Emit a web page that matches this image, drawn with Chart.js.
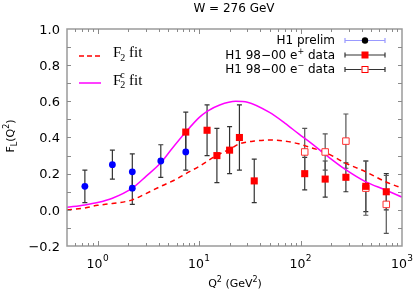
<!DOCTYPE html>
<html><head><meta charset="utf-8">
<script src="https://cdn.jsdelivr.net/npm/chart.js@4"></script>
<style>html,body{margin:0;padding:0;background:#fff;overflow:hidden}</style>
</head><body>
<canvas id="c" width="415" height="291"></canvas>
<script>
// ---- data ----
const prelimQ2  = [0.75, 1.4, 2.2, 2.2, 4.2, 7.4];
const prelimFL  = [0.13, 0.25, 0.21, 0.12, 0.27, 0.32];
const prelimErr = [0.09, 0.08, 0.10, 0.09, 0.09, 0.10];

const ePlusQ2  = [7.4, 12, 15, 20, 25, 35, 110, 175, 280, 440, 700];
const ePlusFL  = [0.43, 0.44, 0.30, 0.33, 0.40, 0.16, 0.20, 0.17, 0.18, 0.13, 0.10];
const ePlusErr = [0.11, 0.14, 0.15, 0.13, 0.18, 0.12, 0.09, 0.10, 0.08, 0.14, 0.10];

const eMinusQ2  = [110, 175, 280, 440, 700];
const eMinusFL  = [0.32, 0.32, 0.38, 0.12, 0.03];
const eMinusErr = [0.13, 0.10, 0.15, 0.15, 0.16];

const f2Q2 = [0.5, 0.75, 1.0, 1.4, 2.2, 3.0, 4.2, 6.0, 7.4, 10, 14.8, 20, 25, 35, 49, 70, 96, 130, 172, 274, 440, 690, 1000];
const f2FL = [0.0, 0.01, 0.025, 0.035, 0.055, 0.09, 0.13, 0.17, 0.20, 0.24, 0.30, 0.335, 0.365, 0.38, 0.386, 0.38, 0.365, 0.342, 0.32, 0.26, 0.21, 0.155, 0.12];

const f2cQ2 = [0.5, 0.75, 1.0, 1.4, 2.2, 3.0, 4.2, 5.1, 7.4, 10, 12, 16, 23, 30, 49, 70, 96, 130, 172, 274, 440, 690, 1000];
const f2cFL = [0.014, 0.027, 0.04, 0.064, 0.12, 0.185, 0.26, 0.32, 0.43, 0.51, 0.545, 0.58, 0.60, 0.595, 0.54, 0.48, 0.42, 0.365, 0.31, 0.225, 0.155, 0.11, 0.07];

const xTickValues = [1, 10, 100, 1000];
const xTickExps   = ['0', '1', '2', '3'];
const yTickValues = [-0.2, 0.0, 0.2, 0.4, 0.6, 0.8, 1.0];
const yTickLabels = ['\u22120.2', '0.0', '0.2', '0.4', '0.6', '0.8', '1.0'];

const titleText = 'W = 276 GeV';

// ---- helpers ----
const pts = (xs, ys) => xs.map((x, i) => ({x: x, y: ys[i]}));
const SANS = '"DejaVu Sans"';
const SERIF = '"Liberation Serif"';

function errBars(ctx, xs, ys, xv, yv, ev, color) {
  ctx.save();
  ctx.strokeStyle = color; ctx.lineWidth = 1.2;
  for (let i = 0; i < xv.length; i++) {
    const px = xs.getPixelForValue(xv[i]);
    const y1 = ys.getPixelForValue(yv[i] - ev[i]);
    const y2 = ys.getPixelForValue(yv[i] + ev[i]);
    ctx.beginPath();
    ctx.moveTo(px, y1); ctx.lineTo(px, y2);
    ctx.moveTo(px - 2.5, y1); ctx.lineTo(px + 2.5, y1);
    ctx.moveTo(px - 2.5, y2); ctx.lineTo(px + 2.5, y2);
    ctx.stroke();
  }
  ctx.restore();
}

// draws a sequence of [text, size, dy, extraSpace] pieces starting at x, baseline y
function runs(ctx, x, y, parts, family) {
  let cx = x;
  for (const p of parts) {
    ctx.font = p[1] + 'px ' + family;
    ctx.fillText(p[0], cx, y + (p[2] || 0));
    cx += ctx.measureText(p[0]).width + (p[3] || 0);
  }
  return cx;
}
function runsWidth(ctx, parts, family) {
  let w = 0;
  for (const p of parts) { ctx.font = p[1] + 'px ' + family; w += ctx.measureText(p[0]).width + (p[3] || 0); }
  return w;
}

const decor = {
  id: 'decor',
  beforeDatasetsDraw(chart) {
    const {ctx, scales: {x, y}} = chart;
    ctx.save();
    ctx.beginPath();
    ctx.rect(chart.chartArea.left, chart.chartArea.top, chart.chartArea.width, chart.chartArea.height);
    ctx.clip();
    errBars(ctx, x, y, prelimQ2, prelimFL, prelimErr, '#333');
    errBars(ctx, x, y, ePlusQ2, ePlusFL, ePlusErr, '#333');
    errBars(ctx, x, y, eMinusQ2, eMinusFL, eMinusErr, '#555');
    ctx.restore();
  },
  afterDraw(chart) {
    const {ctx, chartArea: a, scales: {x, y}} = chart;
    ctx.save();
    // frame
    ctx.strokeStyle = '#9a9a9a'; ctx.lineWidth = 1.5;
    ctx.strokeRect(a.left, a.top, a.right - a.left, a.bottom - a.top);
    // ticks
    ctx.lineWidth = 1; ctx.strokeStyle = '#8a8a8a';
    ctx.beginPath();
    for (let d = -1; d <= 2; d++) {
      for (let m = 1; m <= 9; m++) {
        const v = m * Math.pow(10, d);
        if (v <= 0.5 || v >= 1000) continue;
        const px = Math.round(x.getPixelForValue(v)) + 0.5;
        const len = (m === 1) ? 5 : 3;
        ctx.moveTo(px, a.bottom); ctx.lineTo(px, a.bottom - len);
        ctx.moveTo(px, a.top); ctx.lineTo(px, a.top + len);
      }
    }
    for (let k = -1; k <= 9; k++) {
      const py = Math.round(y.getPixelForValue(k / 10)) + 0.5;
      ctx.moveTo(a.left, py); ctx.lineTo(a.left + 4, py);
      ctx.moveTo(a.right, py); ctx.lineTo(a.right - 4, py);
    }
    ctx.stroke();

    ctx.fillStyle = '#000';
    ctx.textBaseline = 'alphabetic';
    // y tick labels
    ctx.font = '13px ' + SANS; ctx.textAlign = 'right';
    yTickValues.forEach((v, i) => {
      ctx.fillText(yTickLabels[i], 60, y.getPixelForValue(v) + 4.7);
    });
    // x tick labels
    ctx.textAlign = 'left';
    xTickValues.forEach((v, i) => {
      const parts = [['10', 12.5, 0, 0.5], [xTickExps[i], 9, -7]];
      const w = runsWidth(ctx, parts, SANS);
      runs(ctx, x.getPixelForValue(v) - w / 2, 267.5, parts, SANS);
    });
    // title
    ctx.font = '12px ' + SANS; ctx.textAlign = 'center';
    ctx.fillText(titleText, 234, 12);
    // x axis title
    ctx.textAlign = 'left';
    {
      const parts = [['Q', 11], ['2', 8, -5], [' (GeV', 11], ['2', 8, -5], [')', 11]];
      const w = runsWidth(ctx, parts, SANS);
      runs(ctx, 235 - w / 2, 287, parts, SANS);
    }
    // y axis title (rotated)
    ctx.save();
    ctx.translate(13.5, 136);
    ctx.rotate(-Math.PI / 2);
    {
      const parts = [['F', 11], ['L', 8, 3], ['(Q', 11], ['2', 8, -5], [')', 11]];
      const w = runsWidth(ctx, parts, SANS);
      runs(ctx, -w / 2, 0, parts, SANS);
    }
    ctx.restore();

    // right legend
    const rows = [
      {parts: [['H1 prelim', 12]], line: '#9999ff', mark: 'dot'},
      {parts: [['H1 98\u221200 e', 12], ['+', 8, -5], [' data', 12]], line: '#333', mark: 'sq'},
      {parts: [['H1 98\u221200 e', 12], ['\u2212', 8, -5], [' data', 12]], line: '#333', mark: 'osq'}
    ];
    const rowY = [40, 54.5, 69];
    rows.forEach((r, i) => {
      const cy = rowY[i];
      ctx.fillStyle = '#000';
      const w = runsWidth(ctx, r.parts, SANS);
      runs(ctx, 335 - w, cy + 4.3, r.parts, SANS);
      ctx.strokeStyle = r.line; ctx.lineWidth = 1.2;
      ctx.beginPath();
      ctx.moveTo(345, cy + 0.5); ctx.lineTo(385, cy + 0.5);
      ctx.moveTo(345, cy - 2); ctx.lineTo(345, cy + 3);
      ctx.moveTo(385, cy - 2); ctx.lineTo(385, cy + 3);
      ctx.stroke();
      if (r.mark === 'dot') {
        ctx.fillStyle = '#000'; ctx.beginPath(); ctx.arc(365, cy + 0.5, 3.2, 0, Math.PI * 2); ctx.fill();
      } else if (r.mark === 'sq') {
        ctx.fillStyle = '#ff0000'; ctx.fillRect(361.5, cy - 3, 7, 7);
      } else {
        ctx.fillStyle = '#fff'; ctx.fillRect(361.5, cy - 3, 7, 7);
        ctx.strokeStyle = '#ff0000'; ctx.lineWidth = 1; ctx.strokeRect(362, cy - 2.5, 6, 6);
      }
    });

    // left legend (serif)
    ctx.fillStyle = '#000';
    ctx.strokeStyle = '#ff0000'; ctx.lineWidth = 1.5; ctx.setLineDash([5, 3]);
    ctx.beginPath(); ctx.moveTo(79, 56); ctx.lineTo(101, 56); ctx.stroke();
    ctx.setLineDash([]);
    ctx.strokeStyle = '#ff00ff'; ctx.lineWidth = 1.5;
    ctx.beginPath(); ctx.moveTo(79, 83); ctx.lineTo(101, 83); ctx.stroke();
    runs(ctx, 113, 57, [['F', 15, 0, -1], ['2', 10, 3.5], [' fit', 15]], SERIF);
    {
      ctx.font = '15px ' + SERIF;
      const wF = ctx.measureText('F').width - 1;
      ctx.fillText('F', 113, 84.5);
      ctx.font = '10px ' + SERIF;
      ctx.fillText('c', 113 + wF, 78);
      ctx.fillText('2', 113 + wF, 88);
      const wc = ctx.measureText('2').width;
      ctx.font = '15px ' + SERIF;
      ctx.fillText(' fit', 113 + wF + wc, 84.5);
    }
    ctx.restore();
  }
};

new Chart(document.getElementById('c'), {
  type: 'scatter',
  data: {
    datasets: [
      {label: 'H1 prelim', data: pts(prelimQ2, prelimFL), pointStyle: 'circle', pointRadius: 3.4,
       backgroundColor: '#0000ff', borderColor: '#0000ff', borderWidth: 0, order: 1},
      {label: 'H1 98-00 e+ data', data: pts(ePlusQ2, ePlusFL), pointStyle: 'rect', pointRadius: 5,
       backgroundColor: '#ff0000', borderColor: '#ff0000', borderWidth: 0, order: 2},
      {label: 'H1 98-00 e- data', data: pts(eMinusQ2, eMinusFL), pointStyle: 'rect', pointRadius: 4.6,
       backgroundColor: '#ffffff', borderColor: '#ff3030', borderWidth: 1, order: 3},
      {type: 'line', label: 'F2 fit', data: pts(f2Q2, f2FL), borderColor: '#ff0000', borderWidth: 1.5,
       borderDash: [5, 4], pointRadius: 0, fill: false, cubicInterpolationMode: 'monotone', order: 6},
      {type: 'line', label: 'F2c fit', data: pts(f2cQ2, f2cFL), borderColor: '#ff00ff', borderWidth: 1.5,
       pointRadius: 0, fill: false, cubicInterpolationMode: 'monotone', order: 5}
    ]
  },
  options: {
    responsive: false,
    animation: false,
    events: [],
    layout: {padding: {top: 29, right: 13, left: 0, bottom: 0}},
    plugins: {legend: {display: false}, tooltip: {enabled: false}, title: {display: false}},
    scales: {
      x: {type: 'logarithmic', min: 0.5, max: 1000,
          grid: {display: false}, border: {display: false}, ticks: {display: false},
          afterFit(s) { s.height = 45; }},
      y: {type: 'linear', min: -0.2, max: 1.0,
          grid: {display: false}, border: {display: false}, ticks: {display: false},
          afterFit(s) { s.width = 67; }}
    }
  },
  plugins: [decor]
});
</script>
</body></html>
